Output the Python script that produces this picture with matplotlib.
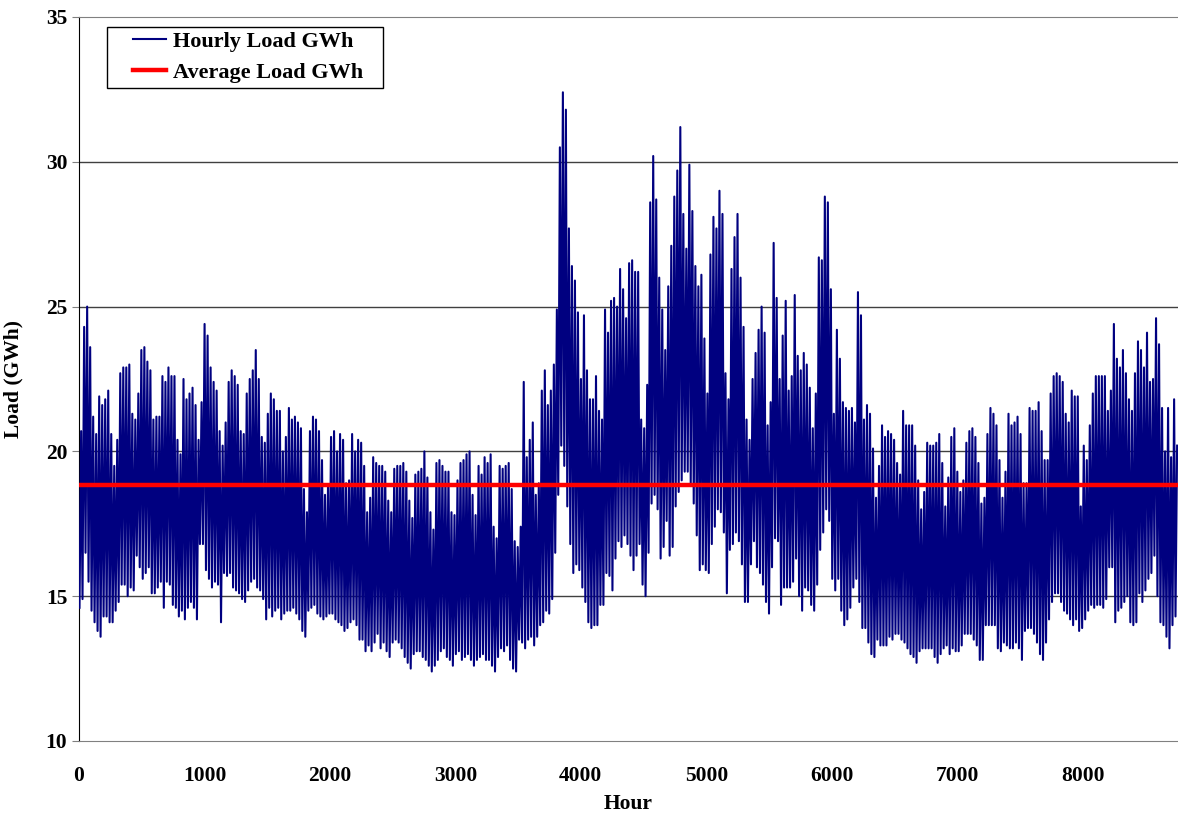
import numpy as np
import matplotlib
matplotlib.use("Agg")
import matplotlib.pyplot as plt
from matplotlib.patches import Rectangle

# ---- datos: pico y valle de cada dia (GWh) ----
daily_peak = [
    20.7, 24.3, 25.0, 23.6, 21.2, 20.6, 21.9, 21.6, 21.8, 22.1, 20.6, 19.5, 20.4, 22.7,
    22.9, 22.9, 23.0, 21.3, 21.1, 22.0, 23.5, 23.6, 23.1, 22.8, 21.1, 21.2, 21.2, 22.6,
    22.4, 22.9, 22.6, 22.6, 20.4, 19.9, 22.5, 21.8, 22.0, 22.2, 21.6, 20.4, 21.7, 24.4,
    24.0, 22.9, 22.4, 22.1, 20.7, 20.2, 21.0, 22.4, 22.8, 22.6, 22.3, 20.7, 20.6, 22.0,
    22.5, 22.8, 23.5, 22.5, 20.5, 20.3, 21.3, 22.0, 21.8, 21.4, 21.4, 20.0, 20.5, 21.5,
    21.1, 21.2, 21.0, 20.8, 18.7, 17.9, 20.7, 21.2, 21.1, 20.7, 19.7, 18.5, 18.8, 20.5,
    20.7, 20.0, 20.6, 20.4, 18.9, 19.0, 20.6, 20.0, 20.4, 20.3, 19.5, 17.9, 18.4, 19.8,
    19.6, 19.5, 19.5, 19.3, 18.3, 17.9, 19.4, 19.5, 19.5, 19.6, 19.3, 18.3, 17.7, 19.2,
    19.3, 19.4, 20.0, 19.1, 17.9, 17.3, 19.6, 19.7, 19.5, 19.3, 19.3, 17.9, 17.8, 19.0,
    19.6, 19.7, 19.9, 20.0, 18.5, 17.8, 19.5, 19.2, 19.8, 19.6, 19.9, 17.4, 17.0,
    19.5, 19.4, 19.5, 19.6, 18.7, 16.9, 16.7, 17.4, 22.4, 19.8, 20.4, 21.0, 18.5, 18.9,
    22.1, 22.8, 21.6, 22.1, 23.0, 24.9, 30.5, 32.4, 31.8, 27.7, 26.4, 25.9, 24.8, 22.5,
    24.7, 22.8, 21.8, 21.8, 22.6, 21.4, 21.1, 24.9, 24.1, 25.2, 25.3, 25.0, 26.3, 25.6,
    24.6, 26.5, 26.6, 26.2, 26.2, 21.1, 20.8, 22.3, 28.6, 30.2, 28.7, 26.0, 24.9, 23.5,
    25.7, 27.1, 28.8, 29.7, 31.2, 28.2, 27.0, 29.9, 28.3, 26.4, 25.7, 26.1, 23.9, 22.0,
    26.8, 28.1, 27.7, 29.0, 28.2, 22.7, 21.8, 26.3, 27.4, 28.2, 26.0, 24.3, 21.1, 20.4,
    22.5, 23.4, 24.2, 25.0, 24.1, 20.9, 21.7, 27.2, 25.3, 22.5, 24.0, 25.2, 22.1, 22.6,
    25.4, 23.3, 22.8, 23.4, 23.0, 22.2, 20.8, 22.0, 26.7, 26.6, 28.8, 28.6, 25.6, 21.3,
    24.2, 23.2, 21.7, 21.5, 21.4, 21.5, 21.0, 25.5, 24.7, 21.1, 21.6, 21.3, 20.1, 18.4,
    19.5, 20.9, 20.5, 20.7, 20.6, 20.4, 19.6, 19.2, 21.4, 20.9, 20.9, 20.9, 20.2, 19.0,
    18.0, 18.6, 20.3, 20.2, 20.2, 20.3, 20.6, 19.6, 18.1, 19.1, 20.5, 20.8, 19.3, 18.6,
    19.0, 20.3, 20.7, 20.8, 20.5, 19.6, 18.2, 18.4, 20.6, 21.5, 21.3, 20.9, 19.7, 18.4,
    19.3, 21.3, 20.9, 21.0, 21.2, 20.6, 18.9, 18.9, 21.5, 21.4, 21.4, 21.7, 20.7, 19.7,
    19.7, 22.0, 22.6, 22.7, 22.6, 22.4, 21.3, 21.0, 22.1, 21.9, 21.9, 18.1, 20.2, 19.7,
    20.9, 22.0, 22.6, 22.6, 22.6, 22.6, 21.4, 22.1, 24.4, 23.2, 22.9, 23.5, 22.7, 21.8,
    21.4, 22.7, 23.8, 23.5, 22.9, 24.1, 22.4, 22.5, 24.6, 23.7, 21.5, 20.0, 21.5, 19.8,
    21.8, 20.2,
]
daily_trough = [
    14.6, 14.9, 16.5, 15.5, 14.5, 14.1, 13.8, 13.6, 14.3, 14.3, 14.1, 14.1, 14.5, 14.8,
    15.4, 15.4, 15.0, 15.3, 15.2, 16.4, 16.0, 15.6, 15.8, 16.0, 15.1, 15.1, 15.3, 15.5,
    14.6, 15.5, 15.4, 14.7, 14.6, 14.3, 14.5, 14.2, 14.6, 14.8, 14.6, 14.2, 16.8, 16.8,
    15.9, 15.6, 15.3, 15.5, 15.4, 14.1, 15.8, 15.7, 15.8, 15.3, 15.2, 15.1, 14.9, 14.8,
    15.2, 15.5, 15.6, 15.3, 15.2, 14.9, 14.2, 14.6, 14.3, 14.5, 14.6, 14.2, 14.4, 14.5,
    14.5, 14.6, 14.4, 14.2, 13.8, 13.6, 14.5, 14.6, 14.7, 14.4, 14.3, 14.2, 14.3, 14.4,
    14.4, 14.2, 14.1, 14.0, 13.8, 13.9, 14.1, 14.2, 14.0, 13.5, 13.5, 13.1, 13.3, 13.1,
    13.4, 13.7, 13.2, 13.4, 13.1, 12.9, 13.4, 13.5, 13.4, 13.2, 12.9, 12.7, 12.5, 13.0,
    13.1, 13.1, 12.9, 12.8, 12.6, 12.4, 12.6, 12.8, 13.1, 13.2, 12.9, 12.8, 12.6, 13.0,
    13.1, 12.8, 12.9, 13.0, 12.8, 12.6, 12.8, 12.9, 13.0, 12.8, 12.8, 12.6, 12.4, 12.9,
    13.2, 13.1, 13.3, 12.8, 12.5, 12.4, 13.5, 13.4, 13.2, 13.5, 13.6, 13.3, 13.6, 14.0,
    14.1, 14.5, 14.4, 14.9, 16.5, 18.5, 20.2, 19.5, 18.1, 16.8, 15.8, 16.1, 15.9, 15.3,
    14.8, 14.1, 13.9, 14.0, 14.0, 14.7, 14.7, 15.8, 15.7, 15.2, 16.3, 16.9, 16.7, 17.1,
    16.8, 16.4, 15.9, 16.4, 16.8, 15.4, 15.0, 16.5, 18.2, 18.5, 18.0, 16.3, 16.7, 17.6,
    16.4, 16.7, 18.1, 18.6, 19.0, 19.3, 19.3, 18.9, 18.2, 17.1, 15.9, 16.1, 15.9, 15.8,
    16.8, 17.4, 18.0, 17.9, 17.2, 15.1, 16.6, 16.8, 17.2, 16.9, 16.1, 14.8, 14.8, 16.1,
    16.9, 16.0, 15.8, 15.4, 14.8, 14.4, 16.0, 17.0, 16.9, 14.7, 15.3, 15.3, 15.3, 15.5,
    16.3, 15.0, 14.5, 15.3, 15.2, 14.7, 14.5, 15.4, 16.6, 17.2, 18.0, 17.6, 15.6, 15.2,
    15.6, 14.5, 14.0, 14.2, 14.6, 15.3, 15.6, 14.8, 13.9, 13.9, 13.4, 13.0, 12.9, 13.5,
    13.3, 13.3, 13.3, 13.6, 13.5, 13.7, 13.7, 13.5, 13.4, 13.2, 13.0, 12.9, 12.7, 13.1,
    13.2, 13.2, 13.2, 13.2, 12.9, 12.7, 13.0, 13.2, 13.3, 13.0, 13.2, 13.1, 13.1, 13.3,
    13.7, 13.7, 13.7, 13.5, 13.3, 12.8, 12.8, 14.0, 14.0, 14.0, 14.0, 13.2, 13.1, 13.4,
    13.3, 13.2, 13.2, 13.4, 13.2, 12.8, 13.8, 13.9, 13.9, 13.7, 13.4, 13.0, 12.8, 13.4,
    14.2, 14.8, 15.1, 15.1, 14.8, 14.5, 14.4, 14.2, 14.0, 14.2, 13.8, 13.9, 14.2, 14.5,
    14.7, 14.6, 14.7, 14.7, 14.6, 14.9, 16.0, 16.0, 14.1, 14.5, 14.6, 14.8, 15.0, 14.1,
    14.0, 14.1, 15.1, 14.8, 15.2, 15.6, 15.8, 16.4, 15.0, 14.1, 14.0, 13.6, 13.2, 14.0,
    14.3,
]
average_load = 18.85
x_ticks = [0, 1000, 2000, 3000, 4000, 5000, 6000, 7000, 8000]
y_ticks = [10, 15, 20, 25, 30, 35]

# valle de madrugada (hora 4) y pico de la tarde (hora 17) de cada dia
n_days = min(len(daily_peak), len(daily_trough))
hours, load = [], []
for d in range(n_days):
    hours += [24 * d + 4, 24 * d + 17]
    load += [daily_trough[d], daily_peak[d]]

plt.rcParams["font.family"] = ["Liberation Serif", "DejaVu Serif"]
plt.rcParams["font.weight"] = "bold"

W, H = 1178, 817
fig = plt.figure(figsize=(W / 100, H / 100), dpi=100)
ax = fig.add_axes([79 / W, 1 - 741 / H, 1099 / W, 724 / H])

ax.plot(hours, load, color="#000080", lw=1.5, label="Hourly Load GWh", zorder=3)
ax.axhline(average_load, color="#FF0000", lw=3.2, label="Average Load GWh", zorder=4)

ax.set_xlim(0, 8760)
ax.set_ylim(10, 35)
ax.set_xticks(x_ticks)
ax.set_yticks(y_ticks)
for y in y_ticks[1:-1]:
    ax.axhline(y, color="#404040", lw=1.0, zorder=1)

ax.tick_params(axis="both", labelsize=15.5, direction="out", length=5, color="#808080")
ax.tick_params(axis="x", length=0, pad=18)
for lab in ax.get_xticklabels() + ax.get_yticklabels():
    lab.set_fontweight("bold")

ax.spines["left"].set_color("#000000")
ax.spines["bottom"].set_color("#808080")
ax.spines["top"].set_color("#808080")
ax.spines["right"].set_visible(False)

ax.set_xlabel("Hour", fontsize=15.5, fontweight="bold", labelpad=6)
ax.set_ylabel("Load (GWh)", fontsize=15.5, fontweight="bold", labelpad=16)

# recuadro de la leyenda al estilo Excel (mas margen lateral que vertical)
box = Rectangle((107 / W, 1 - 88 / H), 276 / W, 61 / H, transform=fig.transFigure,
                facecolor="white", edgecolor="black", lw=1.0, zorder=5, clip_on=False)
ax.add_patch(box)
leg = ax.legend(loc="upper left", bbox_to_anchor=(54 / 1099, 1 - 14 / 724), fontsize=16,
                frameon=False, handlelength=1.5, handletextpad=0.3,
                labelspacing=0.5, borderpad=0, borderaxespad=0)
leg.set_zorder(6)
for t in leg.get_texts():
    t.set_fontweight("bold")

fig.savefig("out.png", dpi=100)
